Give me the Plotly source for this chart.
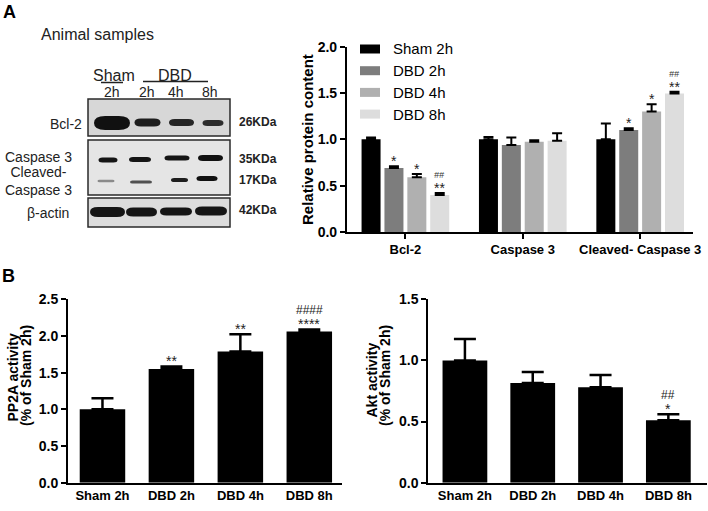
import plotly.graph_objects as go

# ---------------- data ----------------
groups = ["Bcl-2", "Caspase 3", "Cleaved- Caspase 3"]
series = ["Sham 2h", "DBD 2h", "DBD 4h", "DBD 8h"]
series_colors = ["#000000", "#7d7d7d", "#b0b0b0", "#dddddd"]

sham2h = [1.00, 1.00, 1.00]
dbd2h = [0.69, 0.94, 1.10]
dbd4h = [0.59, 0.975, 1.30]
dbd8h = [0.40, 0.985, 1.495]
sham2h_err = [0.02, 0.025, 0.17]
dbd2h_err = [0.02, 0.08, 0.02]
dbd4h_err = [0.035, 0.015, 0.08]
dbd8h_err = [0.02, 0.08, 0.02]

top_stars = [["", "*", "*", "**"], ["", "", "", ""], ["", "*", "*", "**"]]
top_hash = [["", "", "", "##"], ["", "", "", ""], ["", "", "", "##"]]

conditions = ["Sham 2h", "DBD 2h", "DBD 4h", "DBD 8h"]
pp2a = [1.00, 1.55, 1.79, 2.06]
pp2a_err = [0.15, 0.035, 0.235, 0.03]
pp2a_stars = ["", "**", "**", "****"]
pp2a_hash = ["", "", "", "####"]

akt = [1.00, 0.815, 0.78, 0.51]
akt_err = [0.175, 0.09, 0.10, 0.05]
akt_stars = ["", "", "", "*"]
akt_hash = ["", "", "", "##"]

blot_rows = ["Bcl-2", "Caspase 3", "Cleaved-\nCaspase 3", "β-actin"]
blot_kda = ["26KDa", "35KDa", "17KDa", "42KDa"]
blot_lanes = ["2h", "2h", "4h", "8h"]

W, H = 708, 511
FONT = "Arial, Liberation Sans, sans-serif"


def px(x):
    return x / W


def py(y):
    return 1 - y / H


fig = go.Figure()

# ---------------- panel A: grouped bars ----------------
top_vals = [sham2h, dbd2h, dbd4h, dbd8h]
top_errs = [sham2h_err, dbd2h_err, dbd4h_err, dbd8h_err]
gx = list(range(len(groups)))
for i, name in enumerate(series):
    fig.add_trace(go.Bar(
        x=gx, y=top_vals[i], name=name,
        marker=dict(color=series_colors[i], line=dict(width=0)),
        error_y=dict(type="data", symmetric=False, array=top_errs[i],
                     arrayminus=[0] * len(gx), color="black",
                     thickness=2, width=5),
        xaxis="x", yaxis="y"))

# ---------------- panel B: PP2A and Akt ----------------
cx = list(range(len(conditions)))
fig.add_trace(go.Bar(
    x=cx, y=pp2a, width=0.66, marker=dict(color="black", line=dict(width=0)),
    error_y=dict(type="data", symmetric=False, array=pp2a_err,
                 arrayminus=[0] * 4, color="black", thickness=2.5, width=11),
    xaxis="x2", yaxis="y2"))
fig.add_trace(go.Bar(
    x=cx, y=akt, width=0.66, marker=dict(color="black", line=dict(width=0)),
    error_y=dict(type="data", symmetric=False, array=akt_err,
                 arrayminus=[0] * 4, color="black", thickness=2.5, width=11),
    xaxis="x3", yaxis="y3"))

ann = []
# significance marks
slot = 0.78 / 4
for g in range(len(groups)):
    for i in range(len(series)):
        top = top_vals[i][g] + top_errs[i][g]
        xpos = g + (i - 1.5) * slot
        if top_stars[g][i]:
            ann.append(dict(x=xpos, y=top, xref="x", yref="y", text=top_stars[g][i],
                            showarrow=False, xanchor="center", yanchor="bottom", yshift=-5,
                            font=dict(size=14, color="#222", family=FONT)))
        if top_hash[g][i]:
            ann.append(dict(x=xpos, y=top, xref="x", yref="y", text="<i>" + top_hash[g][i] + "</i>",
                            showarrow=False, xanchor="center", yanchor="bottom", yshift=11,
                            font=dict(size=9, color="#333", family=FONT)))

for xr, yr, vals, errs, stars, hashes in [("x2", "y2", pp2a, pp2a_err, pp2a_stars, pp2a_hash),
                                          ("x3", "y3", akt, akt_err, akt_stars, akt_hash)]:
    for i in range(len(conditions)):
        top = vals[i] + errs[i]
        if stars[i]:
            ann.append(dict(x=i, y=top, xref=xr, yref=yr, text=stars[i], showarrow=False,
                            xanchor="center", yanchor="bottom", yshift=-5,
                            font=dict(size=14, color="#222", family=FONT)))
        if hashes[i]:
            ann.append(dict(x=i, y=top, xref=xr, yref=yr, text=hashes[i], showarrow=False,
                            xanchor="center", yanchor="bottom", yshift=10,
                            font=dict(size=12, color="#222", family=FONT)))

# legend (drawn by hand, wide swatches)
shapes = []
for i, name in enumerate(series):
    yy = 49 + i * 21.7
    shapes.append(dict(type="rect", xref="paper", yref="paper",
                       x0=px(360), x1=px(380), y0=py(yy + 4.5), y1=py(yy - 4.5),
                       fillcolor=series_colors[i], line=dict(width=0)))
    ann.append(dict(x=px(391), y=py(yy), xref="paper", yref="paper", text=name,
                    showarrow=False, xanchor="left", yanchor="middle",
                    font=dict(size=15, color="black", family=FONT)))

# axis titles
bold = dict(family=FONT, size=15, color="black", weight="bold")
ann.append(dict(x=px(307.5), y=py(139.5), xref="paper", yref="paper",
                text="Relative protein content", textangle=-90, showarrow=False,
                xanchor="center", yanchor="middle", font=bold))
for x0, y0, t in [(12.5, 378, "PP2A activity"), (26, 376, "(% of Sham 2h)"),
                  (371.5, 380, "Akt activity"), (385, 375, "(% of Sham 2h)")]:
    ann.append(dict(x=px(x0), y=py(y0), xref="paper", yref="paper", text=t,
                    textangle=-90, showarrow=False, xanchor="center", yanchor="middle",
                    font=dict(bold, size=14)))

# panel letters
for t, x0, y0 in [("A", 9, 12.5), ("B", 8, 276)]:
    ann.append(dict(x=px(x0), y=py(y0), xref="paper", yref="paper", text=t, showarrow=False,
                    xanchor="center", yanchor="middle",
                    font=dict(family=FONT, size=18, color="black", weight="bold")))

# ---------------- western blot sketch ----------------
def band_path(cxp, cyp, w, h):
    x0, x1 = cxp - w / 2, cxp + w / 2
    y0, y1 = cyp - h / 2, cyp + h / 2
    r = min(h * 0.8, w / 3)
    return (f"M{x0 + r},{y0} L{x1 - r},{y0} Q{x1},{y0} {x1},{cyp} Q{x1},{y1} {x1 - r},{y1} "
            f"L{x0 + r},{y1} Q{x0},{y1} {x0},{cyp} Q{x0},{y0} {x0 + r},{y0} Z")


boxes = [(99, 136, "#d7d7d7"), (140, 195, "#e5e5e5"), (198, 227, "#dcdcdc")]
for y0, y1, c in boxes:
    shapes.append(dict(type="rect", xref="x4", yref="y4", x0=88, x1=230, y0=y0, y1=y1,
                       fillcolor=c, line=dict(color="#2a2a2a", width=1.5), layer="below"))

bands = [
    (112, 123, 36, 14, "#111111"), (147.5, 122.5, 26, 8, "#1e1e1e"),
    (181.5, 122.5, 25, 7, "#252525"), (213, 123, 21, 6, "#2c2c2c"),
    (108, 160, 19, 5, "#151515"), (140, 159.5, 22, 5, "#151515"),
    (177, 158, 25, 5, "#151515"), (210.5, 158, 25, 6, "#111111"),
    (106, 181, 17, 2.5, "#8a8a8a"), (141, 182, 22, 3, "#505050"),
    (179.5, 180, 17, 4, "#1e1e1e"), (207, 178.5, 21, 5, "#111111"),
    (107.5, 212, 35, 10, "#151515"), (141.5, 212, 31, 9, "#151515"),
    (176, 211.5, 32, 8, "#151515"), (211, 211, 32, 9, "#151515"),
]
for bx, by, bw, bh, bc in bands:
    shapes.append(dict(type="path", xref="x4", yref="y4", path=band_path(bx, by, bw, bh),
                       fillcolor=bc, line=dict(width=0)))

shapes.append(dict(type="line", xref="x4", yref="y4", x0=101, x1=123, y0=82.5, y1=82.5,
                   line=dict(color="#222", width=1.5)))
shapes.append(dict(type="line", xref="x4", yref="y4", x0=143, x1=208, y0=81.5, y1=81.5,
                   line=dict(color="#222", width=1.5)))

reg = dict(family=FONT, size=14, color="#222")
blot_text = [("Animal samples", 97, 34, 16), ("Sham", 113.5, 75.5, 16), ("DBD", 175, 75.5, 16)]
for t, x0, y0, s in blot_text:
    ann.append(dict(x=x0, y=y0, xref="x4", yref="y4", text=t, showarrow=False,
                    xanchor="center", yanchor="middle", font=dict(reg, size=s)))
for t, x0 in zip(blot_lanes, [111.5, 146.7, 175.5, 210]):
    ann.append(dict(x=x0, y=92, xref="x4", yref="y4", text=t, showarrow=False,
                    xanchor="center", yanchor="middle", font=dict(reg, size=14)))
for t, x0, y0 in zip(blot_rows, [66, 38.5, 38, 48], [124, 157, 180.5, 213]):
    ann.append(dict(x=x0, y=y0, xref="x4", yref="y4", text=t.replace("\n", "<br>"),
                    showarrow=False, xanchor="center", yanchor="middle",
                    font=dict(reg, size=14)))
for t, y0 in zip(blot_kda, [122, 159, 180, 210]):
    ann.append(dict(x=237, y=y0, xref="x4", yref="y4", text=t, showarrow=False,
                    xanchor="left", yanchor="middle",
                    font=dict(family=FONT, size=12, color="#222", weight="bold")))

# ---------------- axes ----------------
tickbold = dict(family=FONT, size=14, color="black", weight="bold")
xtick = dict(family=FONT, size=13, color="black", weight="bold")
common_y = dict(showline=True, linecolor="black", ticks="outside", ticklen=5,
                tickcolor="black", showgrid=False, zeroline=False, tickformat=".1f",
                dtick=0.5, tickfont=tickbold, automargin=False)
common_x = dict(showline=True, linecolor="black", showgrid=False, zeroline=False,
                tickfont=xtick, automargin=False)

fig.update_layout(
    width=W, height=H, margin=dict(l=0, r=0, t=0, b=0, autoexpand=False),
    paper_bgcolor="white", plot_bgcolor="rgba(0,0,0,0)",
    showlegend=False, barmode="group", bargap=0.22, bargroupgap=0.17,
    font=dict(family=FONT),
    xaxis=dict(domain=[px(346.7), px(693)], range=[-0.5, 2.45], anchor="y",
               tickvals=gx, ticktext=groups, linewidth=1.5,
               ticks="outside", ticklen=5, tickwidth=1.5, tickcolor="black", **common_x),
    yaxis=dict(domain=[py(232), py(46.7)], range=[0, 2.0], anchor="x",
               linewidth=1.5, tickwidth=1.5, **common_y),
    xaxis2=dict(domain=[px(68), px(341.7)], range=[-0.5, 3.47], anchor="y2",
                tickvals=cx, ticktext=conditions, linewidth=2, ticks="", **common_x),
    yaxis2=dict(domain=[py(482.7), py(299.3)], range=[0, 2.5], anchor="x2",
                linewidth=2, tickwidth=2, **common_y),
    xaxis3=dict(domain=[px(428.3), px(707)], range=[-0.54, 3.57], anchor="y3",
                tickvals=cx, ticktext=conditions, linewidth=2, ticks="", **common_x),
    yaxis3=dict(domain=[py(482.7), py(299.3)], range=[0, 1.5], anchor="x3",
                linewidth=2, tickwidth=2, **common_y),
    xaxis4=dict(domain=[0, px(280)], range=[0, 280], visible=False, anchor="y4",
                automargin=False),
    yaxis4=dict(domain=[py(250), 1], range=[250, 0], visible=False, anchor="x4",
                automargin=False),
    shapes=shapes, annotations=ann,
)

# the page body has a default 8px margin; drop it so the figure sits at the window origin
fig.write_html("out.html", config={"displayModeBar": False},
               post_script="document.body.style.margin='0';")
